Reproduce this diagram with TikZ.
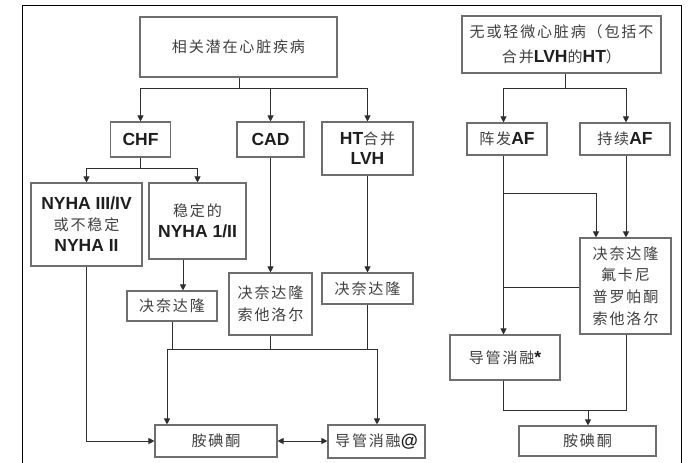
\documentclass[tikz,border=0pt]{standalone}
\usepackage{fontspec}
\setmainfont{Liberation Sans}
\newfontfamily\cjk[Scale=0.86,LetterSpace=12]{Noto Sans CJK SC}
\usetikzlibrary{arrows.meta,calc}
\newcommand{\zh}[1]{{\cjk\color{zhcol}#1}}
\newcommand{\en}[1]{{\bfseries\color{encol}#1}}
\definecolor{zhcol}{HTML}{404040}
\definecolor{encol}{HTML}{1E1E1E}
\definecolor{boxcol}{HTML}{6E6E6E}
\definecolor{linecol}{HTML}{2E2E2E}
\begin{document}
\begin{tikzpicture}[x=1pt,y=-1pt,
  box/.style={draw=boxcol,line width=1.1pt,rectangle,inner sep=0pt,align=center,
    font=\fontsize{17.5}{21}\selectfont},
  conn/.style={draw=linecol,line width=0.9pt},
  arr/.style={conn,-{Triangle[length=6pt,width=6pt]}},
  darr/.style={conn,{Triangle[length=6pt,width=6pt]}-{Triangle[length=6pt,width=6pt]}}]
\useasboundingbox (0,0) rectangle (699,463);
\fill[white] (0,0) rectangle (699,463);
% frame
\draw[black,line width=0.9pt] (22,470) -- (22,5) -- (681,5) -- (681,470);

% ---------- left part ----------
\node[box,minimum width=197pt,minimum height=60pt] (top) at (238.5,47) {\zh{相关潜在心脏疾病}};
\node[box,minimum width=60pt,minimum height=35pt] (chf) at (140.5,139.5) {\en{CHF}};
\node[box,minimum width=67pt,minimum height=35pt] (cad) at (270.5,139.5) {\en{CAD}};
\node[box,minimum width=91pt,minimum height=53pt,font=\fontsize{17.5}{20}\selectfont] (ht) at (367.5,148.5) {\en{HT}\zh{合并}\\\en{LVH}};
\node[box,minimum width=111pt,minimum height=83pt] (ny34) at (86.5,224.5) {\en{NYHA III/IV}\\\zh{或不稳定}\\\en{NYHA II}};
\node[box,minimum width=97pt,minimum height=76pt] (stab) at (197.5,221) {\zh{稳定的}\\\en{NYHA 1/II}};
\node[box,minimum width=90pt,minimum height=30pt] (dr1) at (172,306) {\zh{决奈达隆}};
\node[box,minimum width=83pt,minimum height=62pt,font=\fontsize{17.5}{22}\selectfont] (drs) at (270.5,304) {\zh{决奈达隆}\\\zh{索他洛尔}};
\node[box,minimum width=91pt,minimum height=31pt] (dr2) at (367.5,288.5) {\zh{决奈达隆}};
\node[box,minimum width=122pt,minimum height=32pt] (am1) at (216,441) {\zh{胺碘酮}};
\node[box,minimum width=97pt,minimum height=33pt] (ab1) at (376.5,441.5) {\zh{导管消融}\en{@}};

\coordinate (t1) at (239,88);
\draw[conn] (top.south -| t1) -- (t1);
\draw[arr] (t1) -| (chf.north);
\draw[arr] (t1) -| (ht.north);
\draw[arr] (cad.north |- t1) -- (cad.north);

\coordinate (t2) at (140.5,168);
\draw[conn] (chf.south) -- (t2);
\draw[arr] (t2) -| (ny34.north);
\draw[arr] (t2) -| (stab.north);

\coordinate (s1) at (183,0);
\draw[arr] (stab.south -| s1) -- (dr1.north -| s1);
\draw[arr] (cad.south) -- (drs.north);
\draw[arr] (ht.south) -- (dr2.north);

\coordinate (j1) at (167,349);
\coordinate (j2) at (377,349);
\draw[conn] (dr1.south) -- (dr1.south |- j1);
\draw[conn] (drs.south) -- (drs.south |- j1);
\draw[conn] (dr2.south) -- (dr2.south |- j1);
\draw[conn] (j1) -- (j2);
\draw[arr] (j1) -- (am1.north -| j1);
\draw[arr] (j2) -- (ab1.north -| j2);

\coordinate (n1) at (86.5,441);
\draw[arr] (ny34.south) -- (n1) -- (am1.west);
\draw[darr] (am1.east) -- (ab1.west |- am1.east);

% ---------- right part ----------
\node[box,minimum width=199pt,minimum height=57pt,font=\fontsize{17.5}{25}\selectfont] (rtop) at (561.5,44.5) {\zh{无或轻微心脏病（包括不}\\\zh{合并}\en{LVH}\zh{的}\en{HT}\zh{）}};
\node[box,minimum width=80pt,minimum height=32pt] (paf) at (507,139) {\zh{阵发}\en{AF}};
\node[box,minimum width=90pt,minimum height=32pt] (pers) at (625,139) {\zh{持续}\en{AF}};
\node[box,minimum width=91pt,minimum height=96pt,font=\fontsize{17.5}{21.7}\selectfont] (drugs) at (625.5,286) {\zh{决奈达隆}\\\zh{氟卡尼}\\\zh{普罗帕酮}\\\zh{索他洛尔}};
\node[box,minimum width=110pt,minimum height=45pt] (ab2) at (505,357.5) {\zh{导管消融}\en{*}};
\node[box,minimum width=137pt,minimum height=30pt] (am2) at (587.5,441) {\zh{胺碘酮}};

\coordinate (r1) at (565,88);
\coordinate (pa) at (503.5,0);
\coordinate (pe) at (626,0);
\draw[conn] (rtop.south -| r1) -- (r1);
\draw[arr] (r1) -| (paf.north -| pa);
\draw[arr] (r1) -| (pers.north -| pe);

\coordinate (b1) at (503.5,193);
\coordinate (b2) at (596,193);
\draw[arr] (paf.south -| pa) -- (ab2.north -| pa);
\draw[arr] (b1) -- (b2) -- (drugs.north -| b2);
\draw[arr] (pers.south -| pe) -- (drugs.north -| pe);
\draw[conn] (drugs.west |- 0,287) -- (503.5,287);

\coordinate (c1) at (503.5,410);
\coordinate (c2) at (626,410);
\coordinate (c3) at (588,410);
\draw[conn] (ab2.south -| c1) -- (c1) -- (c2) -- (drugs.south -| c2);
\draw[arr] (c3) -- (am2.north -| c3);
\end{tikzpicture}
\end{document}
